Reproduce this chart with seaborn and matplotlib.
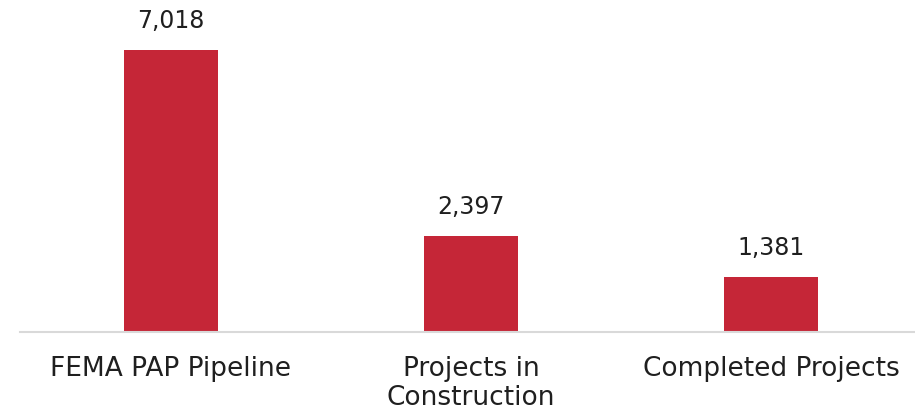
import matplotlib
matplotlib.use("Agg")
import matplotlib.pyplot as plt
import seaborn as sns
import pandas as pd

categories = ["FEMA PAP Pipeline", "Projects in\nConstruction", "Completed Projects"]
values = [7018, 2397, 1381]

bar_color = "#C52637"
text_color = "#1F1F1F"

sns.set_style("white")
plt.rcParams["font.family"] = ["DejaVu Sans"]

fig = plt.figure(figsize=(9.15, 4.12), dpi=100)
ax = fig.add_axes([20 / 915, 80 / 412, 895 / 915, 327 / 412])

df = pd.DataFrame({"category": categories, "value": values})
sns.barplot(data=df, x="category", y="value", color=bar_color, saturation=1,
            width=0.313, ax=ax, edgecolor="none")

ax.set_xlim(-0.503, 2.48)
ax.set_ylim(0, 8142)
ax.set_xlabel("")
ax.set_ylabel("")
ax.set_yticks([])
for s in ["left", "right", "top"]:
    ax.spines[s].set_visible(False)
ax.spines["bottom"].set_color("#D9D9D9")
ax.spines["bottom"].set_linewidth(1.5)
ax.tick_params(axis="x", length=0, pad=17.5, labelsize=19, labelcolor=text_color)
for lbl in ax.get_xticklabels():
    lbl.set_va("top")
    lbl.set_linespacing(1.15)

for c in ax.containers:
    ax.bar_label(c, labels=[f"{v:,.0f}" for v in values], padding=12,
                 fontsize=17, color=text_color)

fig.savefig("out.png", dpi=100)
